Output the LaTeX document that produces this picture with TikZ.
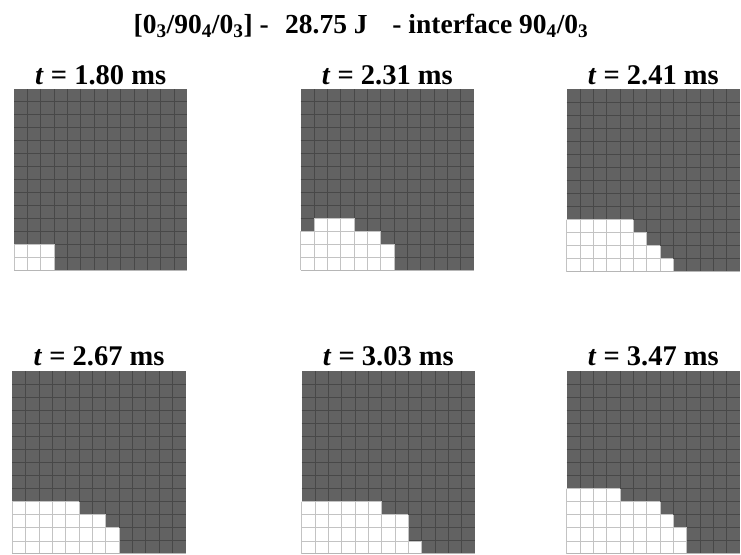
\documentclass[tikz,border=0pt]{standalone}
\usepackage{fontspec}
\setmainfont{Liberation Serif}
\definecolor{cellgray}{RGB}{98,98,98}
\definecolor{gridgray}{RGB}{72,72,72}
\definecolor{lightgrid}{RGB}{195,195,195}
\newcommand\mypanel[4]{% #1 x left, #2 y top, #3 row height, #4 list start/end per row (from bottom)
  \begin{scope}[shift={(#1,#2)},x=13.333pt,y=-#3pt]
    \fill[cellgray] (0,0) rectangle (13,14);
    \foreach \c in {1,...,12} \draw[gridline] (\c,0) -- (\c,14);
    \foreach \c in {1,...,13} \draw[gridline] (0,\c) -- (13,\c);
    \foreach \a/\b [count=\r from 0] in {#4}
      \fill[white] (\a,13-\r) rectangle (\b,14-\r);
    \foreach \a/\b [count=\r from 0] in {#4} {
      \foreach \c in {\a,...,\b} \draw[lightline] (\c,13-\r) -- (\c,14-\r);
      \draw[lightline] (\a,13-\r) -- (\b,13-\r);
    }
    \draw[bottomline] (0,14) -- (13,14);
  \end{scope}
}
\begin{document}
\begin{tikzpicture}[x=1pt,y=-1pt,
  gridline/.style={gridgray,line width=0.9pt},
  lightline/.style={lightgrid,line width=0.8pt},
  bottomline/.style={lightgrid!80!gray,line width=1pt},
  lab/.style={anchor=base,inner sep=0pt,font=\fontsize{28.5}{30}\selectfont\bfseries},
  ttl/.style={anchor=base,inner sep=0pt,font=\fontsize{27.5}{30}\selectfont\bfseries}]
\useasboundingbox (0,0) rectangle (741,554);
\fill[white] (0,0) rectangle (741,554);

\node[ttl] (title) at (361,33) {[0\textsubscript{3}/90\textsubscript{4}/0\textsubscript{3}] -\hspace{0.6em}28.75 J\hspace{0.9em}- interface 90\textsubscript{4}/0\textsubscript{3}};

\mypanel{14}{89}{12.93}{0/3,0/3}
\mypanel{300.7}{89}{12.93}{0/7,0/7,0/6,1/4}
\mypanel{566.7}{89}{13.05}{0/8,0/7,0/6,0/5}
\mypanel{12.3}{371}{13.07}{0/8,0/8,0/7,0/5}
\mypanel{301.7}{371}{13.07}{0/9,0/8,0/8,0/6}
\mypanel{566.7}{371}{13.07}{0/9,0/9,0/8,0/7,0/4}

\node[lab] (t1) at (100.7,84) {\textit{t} = 1.80 ms};
\node[lab] (t2) at (387.3,84) {\textit{t} = 2.31 ms};
\node[lab] (t3) at (653.3,84) {\textit{t} = 2.41 ms};
\node[lab] (t4) at (99,365) {\textit{t} = 2.67 ms};
\node[lab] (t5) at (388.3,365) {\textit{t} = 3.03 ms};
\node[lab] (t6) at (653.3,365) {\textit{t} = 3.47 ms};
\end{tikzpicture}
\end{document}
